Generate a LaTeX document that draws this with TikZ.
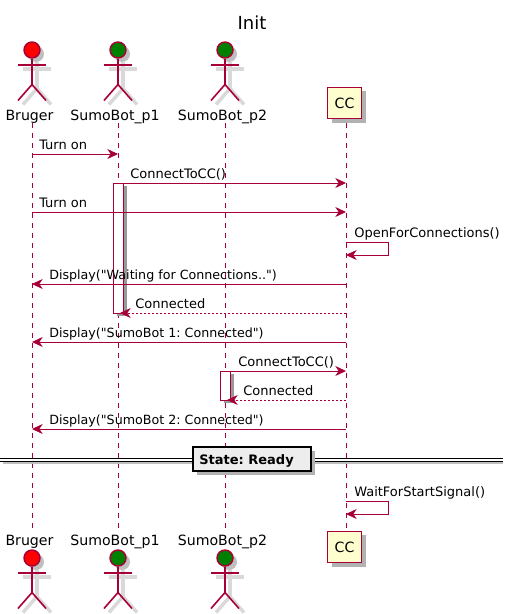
\documentclass[tikz,border=0pt]{standalone}
\usepackage{fontspec}
\newfontfamily\umlfont{DejaVu Sans}
\usetikzlibrary{arrows.meta,shadows}
\definecolor{umlred}{HTML}{A80036}
\definecolor{umlnote}{HTML}{FEFECE}
\tikzset{
  life/.style={draw=umlred, line width=0.75pt, dash pattern=on 3.75pt off 3.75pt},
  msg/.style={draw=umlred, line width=0.75pt, -{Stealth[length=8pt,width=7.5pt,inset=2.5pt]}},
  ret/.style={msg, dash pattern=on 1.5pt off 1.5pt},
  lbl/.style={anchor=base west, inner sep=0pt, font=\umlfont\fontsize{9.75}{12}\selectfont\frenchspacing},
  disp/.style={lbl, font=\umlfont\fontsize{9.5}{12}\selectfont\frenchspacing},
  partname/.style={anchor=base, inner sep=0pt, font=\umlfont\fontsize{10.6}{12}\selectfont},
  pshadow/.style={drop shadow={shadow xshift=3pt, shadow yshift=-3pt, fill=black!30, opacity=1}},
  partbox/.style={draw=umlred, line width=1.1pt, fill=umlnote, minimum width=25.5pt, minimum height=23.5pt, inner sep=0pt, pshadow, font=\umlfont\fontsize{10.6}{12}\selectfont},
  activ/.style={draw=umlred, line width=0.75pt, fill=white, minimum width=7.5pt, inner sep=0pt, drop shadow={shadow xshift=2.5pt, shadow yshift=-2.5pt, fill=black!40, opacity=1}},
  head/.style={circle, draw=umlred, line width=1.1pt, minimum size=12pt, inner sep=0pt, drop shadow={shadow xshift=3pt, shadow yshift=-3pt, fill=black!25, opacity=1}},
  limb/.style={draw=umlred, line width=1.2pt},
  limbshadow/.style={draw=black!15, line width=2.6pt}
}
\begin{document}
\begin{tikzpicture}[x=0.75pt, y=-0.75pt]
  \useasboundingbox (0,0) rectangle (509,614);
  \node[inner sep=0pt, anchor=base, font=\umlfont\fontsize{13.5}{16}\selectfont] (title) at (252,29) {Init};

  % lifelines
  \foreach \part/\x in {bruger/32, one/118, two/225, cc/346} {
    \coordinate (\part-top) at (\x,123);
    \coordinate (\part-bot) at (\x,530);
    \draw[life] (\part-top) -- (\part-bot);
  }

  % actors, top and bottom
  \foreach \part/\x/\col in {bruger/32/red, one/118/green!50!black, two/225/green!50!black} {
    \foreach \pos/\y in {a/50, b/558} {
      \coordinate (\part-\pos-hip) at (\x,\y+34.5);
      \coordinate (\part-\pos-la) at (\x-14,\y+15);
      \coordinate (\part-\pos-ra) at (\x+14,\y+15);
      \coordinate (\part-\pos-lf) at (\x-14,\y+50.5);
      \coordinate (\part-\pos-rf) at (\x+14,\y+50.5);
      \begin{scope}[shift={(5,4)}]
        \draw[limbshadow] (\x,\y+8) -- (\x,\y+34.5);
        \draw[limbshadow] (\x-14,\y+15) -- (\x+14,\y+15);
        \draw[limbshadow] (\x-14,\y+50.5) -- (\x,\y+34.5) -- (\x+14,\y+50.5);
      \end{scope}
      \node[head, fill=\col] (\part-\pos-head) at (\x,\y) {};
      \draw[limb] (\part-\pos-head) -- (\part-\pos-hip);
      \draw[limb] (\part-\pos-la) -- (\part-\pos-ra);
      \draw[limb] (\part-\pos-lf) -- (\part-\pos-hip) -- (\part-\pos-rf);
    }
  }
  \node[partname] (bruger-a) at (29.5,120) {Bruger};
  \node[partname] (one-a) at (115,120) {SumoBot\_p1};
  \node[partname] (two-a) at (222.5,120) {SumoBot\_p2};
  \node[partname] (bruger-b) at (29.5,545) {Bruger};
  \node[partname] (one-b) at (115,545) {SumoBot\_p1};
  \node[partname] (two-b) at (222.5,545) {SumoBot\_p2};

  % CC boxes
  \node[partbox] (cc-a) at (344.5,103) {CC};
  \node[partbox] (cc-b) at (344.5,547) {CC};

  % activations
  \node[activ, minimum height=97.5pt] (act1) at (118.5,248) {};
  \node[activ, minimum height=21.75pt] (act2) at (225.5,385.5) {};

  % end points of the messages
  \foreach \y in {154,212,284,342,429} {
    \coordinate (b\y) at (32,\y);
    \coordinate (c\y) at (346,\y);
  }
  \coordinate (p154) at (118,154);
  \coordinate (c183) at (346,183);
  \coordinate (c313) at (346,313);
  \coordinate (c371) at (346,371);
  \coordinate (c400) at (346,400);
  \coordinate (p313) at (120,313);
  \coordinate (q400) at (227,400);
  \coordinate (s242) at (346,242);
  \coordinate (s255) at (346,255);
  \coordinate (t242) at (388,242);
  \coordinate (t255) at (388,255);
  \coordinate (s501) at (346,501);
  \coordinate (s514) at (346,514);
  \coordinate (t501) at (388,501);
  \coordinate (t514) at (388,514);
  \coordinate (p183) at (123,183);
  \coordinate (q371) at (230,371);

  \draw[msg] (b154) -- (p154);
  \draw[msg] (p183) -- (c183);
  \draw[msg] (b212) -- (c212);
  \draw[msg] (s242) -- (t242) -- (t255) -- (s255);
  \draw[msg] (c284) -- (b284);
  \draw[ret] (c313) -- (p313);
  \draw[msg] (c342) -- (b342);
  \draw[msg] (q371) -- (c371);
  \draw[ret] (c400) -- (q400);
  \draw[msg] (c429) -- (b429);
  \draw[msg] (s501) -- (t501) -- (t514) -- (s514);

  \node[lbl] (m1) at (39,149) {Turn on};
  \node[lbl] (m2) at (130,178) {ConnectToCC()};
  \node[lbl] (m3) at (39,207) {Turn on};
  \node[lbl] (m4) at (354,237) {OpenForConnections()};
  \node[disp] (m5) at (49,279) {Display("Waiting for Connections..")};
  \node[lbl] (m6) at (135,308) {Connected};
  \node[disp] (m7) at (49,337) {Display("SumoBot 1: Connected")};
  \node[lbl] (m8) at (238,366) {ConnectToCC()};
  \node[lbl] (m9) at (243,395) {Connected};
  \node[disp] (m10) at (49,424) {Display("SumoBot 2: Connected")};
  \node[lbl] (m11) at (354,496) {WaitForStartSignal()};

  % divider
  \coordinate (divl) at (0,460);
  \coordinate (divr) at (503,460);
  \coordinate (shl) at (3,463);
  \coordinate (shr) at (503,463);
  \draw[black!25, line width=1pt] (shl) -- (shr);
  \draw[black, line width=0.8pt, double=white, double distance=1.3pt] (divl) -- (divr);
  \node[draw=black, line width=1.5pt, fill=black!7, minimum width=88.5pt, minimum height=17.8pt, inner sep=0pt, pshadow] (state) at (252,459) {};
  \node[lbl, font=\umlfont\fontsize{9.75}{12}\selectfont\bfseries\frenchspacing] (statetext) at (199,464) {State: Ready};
\end{tikzpicture}
\end{document}
